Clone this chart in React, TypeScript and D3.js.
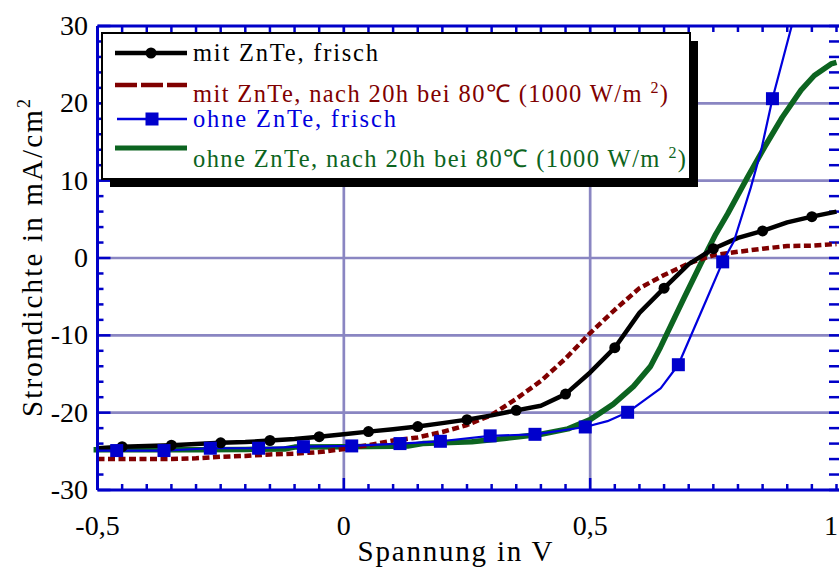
import React from "react";
import * as d3 from "d3";

// ---- data (voltage in V, current density in mA/cm²) ----
const blackV = [-0.5, -0.45, -0.4, -0.35, -0.3, -0.25, -0.2, -0.15, -0.1, -0.05, 0, 0.05, 0.1, 0.15, 0.2, 0.25, 0.3, 0.35, 0.4, 0.45, 0.5, 0.55, 0.6, 0.65, 0.7, 0.75, 0.8, 0.85, 0.9, 0.95, 1.0];
const blackJ = [-24.6, -24.4, -24.3, -24.2, -24.05, -23.9, -23.8, -23.6, -23.4, -23.1, -22.8, -22.45, -22.15, -21.8, -21.35, -20.9, -20.35, -19.7, -19.1, -17.6, -14.8, -11.6, -7.1, -3.9, -0.8, 1.2, 2.6, 3.5, 4.6, 5.35, 6.0];

const redV = [-0.5, -0.45, -0.4, -0.35, -0.3, -0.25, -0.2, -0.15, -0.1, -0.05, 0, 0.05, 0.1, 0.15, 0.2, 0.25, 0.3, 0.35, 0.4, 0.45, 0.5, 0.55, 0.6, 0.65, 0.7, 0.75, 0.8, 0.85, 0.9, 0.95, 1.0];
const redJ = [-26.0, -26.0, -26.0, -26.0, -25.9, -25.7, -25.6, -25.4, -25.3, -25.1, -24.7, -24.2, -23.6, -23.2, -22.5, -21.6, -20.3, -18.2, -15.9, -13.0, -9.7, -6.7, -3.9, -2.2, -0.7, 0.35, 0.8, 1.2, 1.55, 1.6, 1.8];

const blueV = [-0.5, -0.461, -0.365, -0.271, -0.173, -0.082, 0.016, 0.114, 0.196, 0.297, 0.388, 0.49, 0.535, 0.576, 0.643, 0.679, 0.738, 0.769, 0.792, 0.826, 0.847, 0.87, 0.909];
const blueJ = [-24.9, -24.9, -24.9, -24.6, -24.6, -24.4, -24.3, -24.0, -23.7, -23.0, -22.8, -21.85, -21.1, -19.95, -16.85, -13.8, -5.1, -0.5, 2.2, 9.1, 13.9, 20.6, 30.0];
const blueMarkV = [-0.461, -0.365, -0.271, -0.173, -0.082, 0.016, 0.114, 0.196, 0.297, 0.388, 0.49, 0.576, 0.679, 0.769, 0.87];
const blueMarkJ = [-24.9, -24.9, -24.6, -24.6, -24.4, -24.3, -24.0, -23.7, -23.0, -22.8, -21.85, -19.95, -13.8, -0.5, 20.6];

const greenV = [-0.508, -0.4, -0.3, -0.2, -0.12, -0.1, 0, 0.1, 0.13, 0.16, 0.26, 0.33, 0.4, 0.455, 0.5, 0.547, 0.588, 0.622, 0.643, 0.691, 0.724, 0.755, 0.779, 0.819, 0.854, 0.89, 0.928, 0.955, 0.989, 1.0];
const greenJ = [-24.8, -24.8, -24.8, -24.75, -24.7, -24.45, -24.4, -24.35, -24.3, -24.0, -23.75, -23.3, -22.8, -22.1, -20.9, -18.9, -16.6, -14.05, -11.5, -5.1, -0.8, 3.1, 5.7, 10.4, 14.35, 18.2, 21.7, 23.6, 25.1, 25.3];

const xTickValues = [-0.5, 0, 0.5, 1];
const xTickLabels = ["-0,5", "0", "0,5", "1"];
const yTickValues = [30, 20, 10, 0, -10, -20, -30];
const yTickLabels = ["30", "20", "10", "0", "-10", "-20", "-30"];
const xGrid = [0, 0.5];
const yGrid = [-20, -10, 0, 10, 20];

const FONT = "'Liberation Serif', 'Times New Roman', serif";
const AXIS = "#0000c8";
const GRID = "#8a86c2";
const RED = "#800000";
const BLUE = "#0000dd";
const GREEN = "#0c6420";

export default function App() {
  const W = 839, H = 573;
  const L = 97.5, R = 836.5, T = 26, B = 490;
  const x = d3.scaleLinear().domain([-0.5, 1]).range([L, R]);
  const y = d3.scaleLinear().domain([-30, 30]).range([B, T]);
  const line = d3.line<[number, number]>().x(d => x(d[0])).y(d => y(d[1]));
  const zip = (a: number[], b: number[]) => a.map((v, i) => [v, b[i]] as [number, number]);

  const xMinor = d3.range(0, 31).map(i => -0.5 + i * 0.05);
  const yMinor = d3.range(-30, 31, 2);
  const frameR = 841;

  return (
    <svg width={W} height={H} style={{ position: "absolute", left: 0, top: 0, background: "#fff" }} fontFamily={FONT}>
      <defs>
        <clipPath id="plot"><rect x={0} y={T} width={W} height={B - T} /></clipPath>
      </defs>
      <rect width={W} height={H} fill="#fff" />
      {/* grid */}
      {xGrid.map(v => <line key={"gx" + v} x1={x(v)} x2={x(v)} y1={T} y2={B} stroke={GRID} strokeWidth={2.7} />)}
      {yGrid.map(v => <line key={"gy" + v} x1={L} x2={frameR} y1={y(v)} y2={y(v)} stroke={GRID} strokeWidth={2.7} />)}

      {/* ticks */}
      {xMinor.map((v, i) => {
        const major = Math.abs(v) < 1e-9 || Math.abs(v - 0.5) < 1e-9;
        const len = major ? 12 : 6;
        return (
          <g key={"xt" + i}>
            <line x1={x(v)} x2={x(v)} y1={B} y2={B - len} stroke={AXIS} strokeWidth={2.5} />
            <line x1={x(v)} x2={x(v)} y1={T} y2={T + len} stroke={AXIS} strokeWidth={2.5} />
          </g>
        );
      })}
      {yMinor.map((v, i) => {
        const major = v % 10 === 0;
        const len = major ? 13 : 6;
        return (
          <g key={"yt" + i}>
            <line x1={L} x2={L + len} y1={y(v)} y2={y(v)} stroke={AXIS} strokeWidth={2.5} />
            <line x1={frameR} x2={frameR - 12} y1={y(v)} y2={y(v)} stroke={AXIS} strokeWidth={2.5} />
          </g>
        );
      })}

      {/* curves */}
      <g clipPath="url(#plot)" fill="none" strokeLinejoin="round">
        <path d={line(zip(greenV, greenJ)) || ""} stroke={GREEN} strokeWidth={5.5} />
        <path d={line(zip(redV, redJ)) || ""} stroke={RED} strokeWidth={4.5} strokeDasharray="7,3.5" />
        <path d={line(zip(blackV, blackJ)) || ""} stroke="#000" strokeWidth={4.5} />
        <path d={line(zip(blueV, blueJ)) || ""} stroke={BLUE} strokeWidth={2.2} />
        {blackV.map((v, i) => i % 2 === 1 ? <circle key={"bm" + i} cx={x(v)} cy={y(blackJ[i])} r={5.5} fill="#000" /> : null)}
        {blueMarkV.map((v, i) => <rect key={"qm" + i} x={x(v) - 6.5} y={y(blueMarkJ[i]) - 6.5} width={13} height={13} fill="#0000cc" />)}
      </g>

      {/* frame */}
      <line x1={L} x2={frameR + 2} y1={B} y2={B} stroke={AXIS} strokeWidth={3} />
      <line x1={L} x2={frameR + 2} y1={T} y2={T} stroke={AXIS} strokeWidth={3} />
      <line x1={L} x2={L} y1={T} y2={B} stroke={AXIS} strokeWidth={3} />
      <line x1={frameR} x2={frameR} y1={T} y2={B} stroke={AXIS} strokeWidth={3} />

      {/* tick labels */}
      {xTickValues.map((v, i) => (
        <text key={"xl" + i} x={Math.min(x(v), W - 8)} y={535} fontSize={28} textAnchor="middle" fill="#000">{xTickLabels[i]}</text>
      ))}
      {yTickValues.map((v, i) => (
        <text key={"yl" + i} x={88} y={y(v) + 9} fontSize={28} textAnchor="end" fill="#000">{yTickLabels[i]}</text>
      ))}

      {/* axis titles */}
      <text x={455} y={561} fontSize={29} textAnchor="middle" textLength={195} lengthAdjust="spacing" fill="#000">Spannung in  V</text>
      <text transform="translate(42,258) rotate(-90)" fontSize={29} textAnchor="middle" textLength={318} lengthAdjust="spacing" fill="#000">
        Stromdichte in  mA/cm<tspan dy={-12} fontSize={18}>2</tspan>
      </text>

      {/* legend */}
      <rect x={110} y={41} width={588} height={146} fill="#000" />
      <rect x={102} y={33} width={588} height={146} fill="#fff" stroke="#000" strokeWidth={2} />
      <line x1={115} x2={187} y1={53} y2={53} stroke="#000" strokeWidth={4.5} />
      <circle cx={151} cy={53} r={5.5} fill="#000" />
      <text x={193} y={61} fontSize={24.5} textLength={185} lengthAdjust="spacing" fill="#000">mit ZnTe,  frisch</text>

      <line x1={115} x2={187} y1={85} y2={85} stroke={RED} strokeWidth={4.5} strokeDasharray="22,4" />
      <text x={193} y={102} fontSize={24.5} textLength={475} lengthAdjust="spacing" fill={RED}>
        mit ZnTe, nach 20h bei 80℃ (1000 W/m <tspan dy={-9} fontSize={16}>2</tspan><tspan dy={9}>)</tspan>
      </text>

      <line x1={117} x2={187} y1={119} y2={119} stroke={BLUE} strokeWidth={2.5} />
      <rect x={152 - 6.5} y={119 - 6.5} width={13} height={13} fill="#0000cc" />
      <text x={193} y={127} fontSize={24.5} textLength={203} lengthAdjust="spacing" fill={BLUE}>ohne ZnTe,  frisch</text>

      <line x1={115} x2={187} y1={148} y2={148} stroke={GREEN} strokeWidth={5} />
      <text x={193} y={167} fontSize={24.5} textLength={493} lengthAdjust="spacing" fill={GREEN}>
        ohne ZnTe, nach 20h bei 80℃ (1000 W/m <tspan dy={-9} fontSize={16}>2</tspan><tspan dy={9}>)</tspan>
      </text>
    </svg>
  );
}
